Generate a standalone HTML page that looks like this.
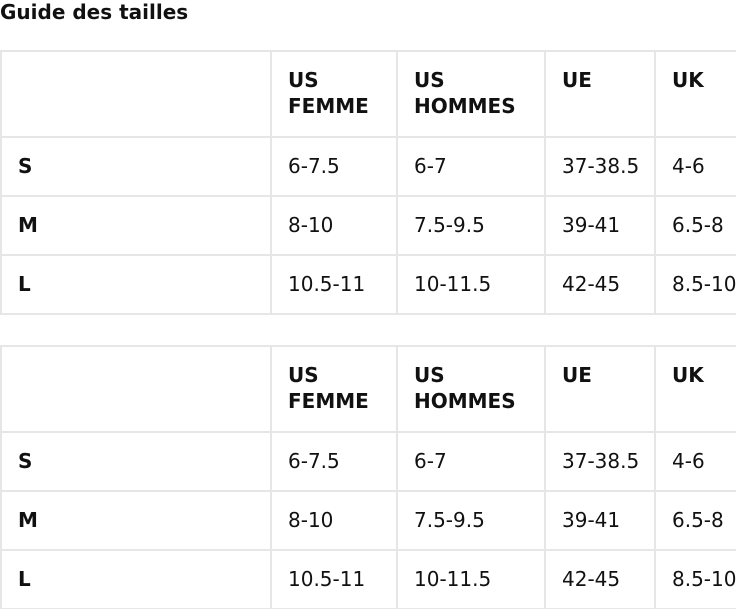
<!DOCTYPE html>
<html><head><meta charset="utf-8"><style>
html,body{margin:0;padding:0;background:#fff;width:736px;height:609px;overflow:hidden;position:relative;font-family:"DejaVu Sans","Liberation Sans",sans-serif;color:#111}
.t{position:absolute;left:0;top:-1px;font-weight:bold;font-size:20px;line-height:26px}
table{position:absolute;left:0;border-collapse:collapse;table-layout:fixed;width:800px;font-size:20px}
td{border:2px solid #e6e6e6;padding:0 0 2px 16px;line-height:26px;vertical-align:middle;height:55px;box-sizing:border-box;white-space:nowrap}
tr.h td{height:86px;vertical-align:top;padding-top:15px;padding-bottom:0;font-weight:bold}
td.b{font-weight:bold}
</style></head><body>
<div class="t">Guide des tailles</div>
<table style="top:50px">
<colgroup><col style="width:270px"><col style="width:126px"><col style="width:148px"><col style="width:110px"><col style="width:146px"></colgroup>
<tr class="h"><td></td><td>US<br>FEMME</td><td>US<br>HOMMES</td><td>UE</td><td>UK</td></tr>
<tr style="height:59px"><td class="b">S</td><td>6-7.5</td><td>6-7</td><td>37-38.5</td><td>4-6</td></tr>
<tr style="height:59px"><td class="b">M</td><td>8-10</td><td>7.5-9.5</td><td>39-41</td><td>6.5-8</td></tr>
<tr style="height:59px"><td class="b">L</td><td>10.5-11</td><td>10-11.5</td><td>42-45</td><td>8.5-10</td></tr>
</table>
<table style="top:345px">
<colgroup><col style="width:270px"><col style="width:126px"><col style="width:148px"><col style="width:110px"><col style="width:146px"></colgroup>
<tr class="h"><td></td><td>US<br>FEMME</td><td>US<br>HOMMES</td><td>UE</td><td>UK</td></tr>
<tr style="height:59px"><td class="b">S</td><td>6-7.5</td><td>6-7</td><td>37-38.5</td><td>4-6</td></tr>
<tr style="height:59px"><td class="b">M</td><td>8-10</td><td>7.5-9.5</td><td>39-41</td><td>6.5-8</td></tr>
<tr style="height:59px"><td class="b">L</td><td>10.5-11</td><td>10-11.5</td><td>42-45</td><td>8.5-10</td></tr>
</table>
</body></html>
